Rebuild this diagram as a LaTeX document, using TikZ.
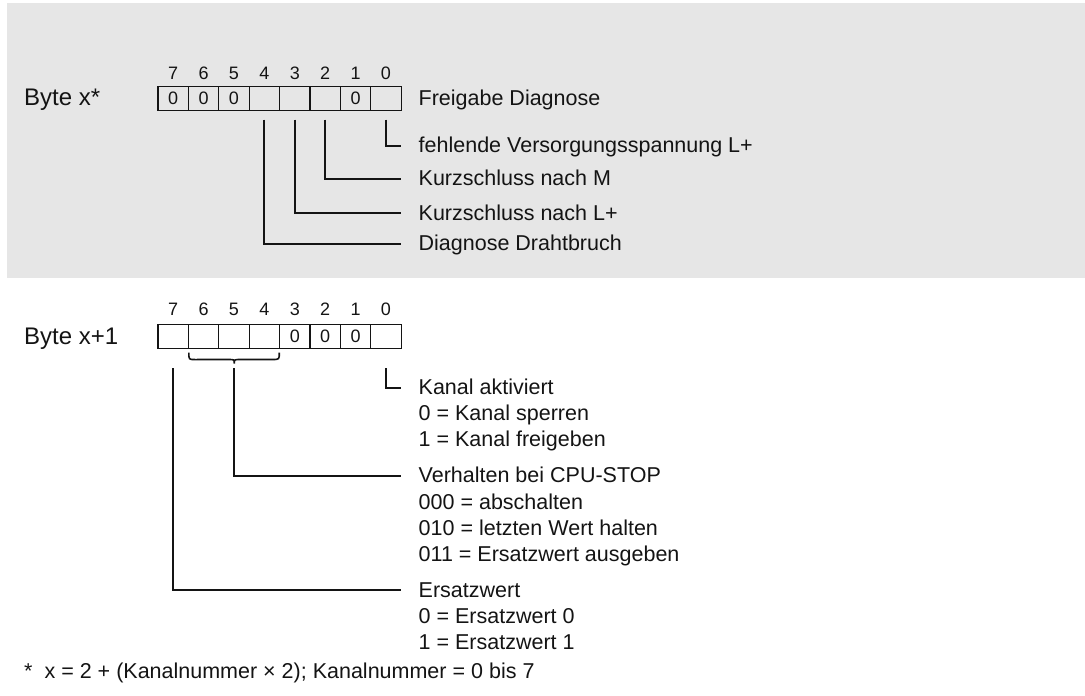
\documentclass[tikz,border=0pt]{standalone}
\usepackage{fontspec}
\setmainfont{Liberation Sans}
\definecolor{bggray}{HTML}{E6E6E6}
\definecolor{ink}{HTML}{141414}
\tikzset{
  cell/.style={draw=ink, line width=1.1pt, minimum width=30.4pt, minimum height=24pt, inner sep=0pt, font=\fontsize{18}{20}\selectfont, text=ink},
  bitnum/.style={anchor=base, inner sep=0pt, font=\fontsize{18}{20}\selectfont, text=ink},
  bytelbl/.style={anchor=base west, inner sep=0pt, font=\fontsize{24}{28}\selectfont, text=ink},
  lbl/.style={anchor=base west, inner sep=0pt, text height=14pt, text depth=0pt, font=\fontsize{21.5}{26}\selectfont, text=ink},
  conn/.style={draw=ink, line width=2pt},
  bracepath/.style={draw=ink, line width=1.6pt}
}
\begin{document}
\begin{tikzpicture}[x=1pt,y=-1pt]
\useasboundingbox (0,0) rectangle (1085,696);
\fill[bggray] (7,3) rectangle (1085,277.5);

% ---------- Byte x* ----------
\node[bytelbl] (bx) at (24,105.7) {Byte x*};
\foreach \i/\v [count=\k from 0] in {7/0,6/0,5/0,4/,3/,2/,1/0,0/} {
  \node[cell] (t\i) at (173.2+30.4*\k,98.7) {\v};
  \node[bitnum] (tn\i) at (173.2+30.4*\k,79.3) {\i};
}
\node[lbl] (la0) at (418.5,105) {Freigabe Diagnose};
\node[lbl] (la1) at (418.5,152.7) {fehlende Versorgungsspannung L+};
\node[lbl] (la2) at (418.5,185.5) {Kurzschluss nach M};
\node[lbl] (la3) at (418.5,220) {Kurzschluss nach L+};
\node[lbl] (la4) at (418.5,250.5) {Diagnose Drahtbruch};

\draw[conn] ([yshift=-8.3pt]t0.south) |- ([xshift=-17.5pt]la1.west);
\draw[conn] ([yshift=-8.3pt]t2.south) |- ([xshift=-17.5pt]la2.west);
\draw[conn] ([yshift=-8.3pt]t3.south) |- ([xshift=-17.5pt]la3.west);
\draw[conn] ([yshift=-8.3pt]t4.south) |- ([xshift=-17.5pt]la4.west);

% ---------- Byte x+1 ----------
\node[bytelbl] (by) at (24,344) {Byte x+1};
\foreach \i/\v [count=\k from 0] in {7/,6/,5/,4/,3/0,2/0,1/0,0/} {
  \node[cell] (b\i) at (173.2+30.4*\k,336.5) {\v};
  \node[bitnum] (bn\i) at (173.2+30.4*\k,315) {\i};
}
% brace under bits 6..4
\coordinate (brtip) at (234.3,363.5);
\draw[bracepath] ([xshift=1pt,yshift=-3.5pt]b6.south west) .. controls ++(0,7) .. ++(6,7)
  -- ([xshift=-6pt]brtip |- 0,359.5) .. controls (brtip |- 0,359.5) .. (brtip)
  .. controls (brtip |- 0,359.5) .. ([xshift=6pt]brtip |- 0,359.5)
  -- ([xshift=-7pt]279.3,359.5) .. controls (279.3,359.5) .. (279.3,352.5);

\node[lbl] (lb0) at (418.5,394.7) {Kanal aktiviert};
\node[lbl] (lb1) at (418.5,420.7) {0 = Kanal sperren};
\node[lbl] (lb2) at (418.5,446.7) {1 = Kanal freigeben};
\node[lbl] (lb3) at (418.5,482.7) {Verhalten bei CPU-STOP};
\node[lbl] (lb4) at (418.5,509) {000 = abschalten};
\node[lbl] (lb5) at (418.5,535) {010 = letzten Wert halten};
\node[lbl] (lb6) at (418.5,561) {011 = Ersatzwert ausgeben};
\node[lbl] (lb7) at (418.5,597.3) {Ersatzwert};
\node[lbl] (lb8) at (418.5,623.3) {0 = Ersatzwert 0};
\node[lbl] (lb9) at (418.5,649.3) {1 = Ersatzwert 1};

\draw[conn] ([yshift=-19pt]b0.south) |- ([xshift=-17.5pt]lb0.west);
\draw[conn] ([yshift=-4.5pt]brtip) |- ([xshift=-17.5pt]lb3.west);
\draw[conn] ([yshift=-19pt]b7.south) |- ([xshift=-17.5pt]lb7.west);

% footnote
\node[lbl] (fn) at (24,678) {*\hspace{12pt}x = 2 + (Kanalnummer × 2); Kanalnummer = 0 bis 7};
\end{tikzpicture}
\end{document}
